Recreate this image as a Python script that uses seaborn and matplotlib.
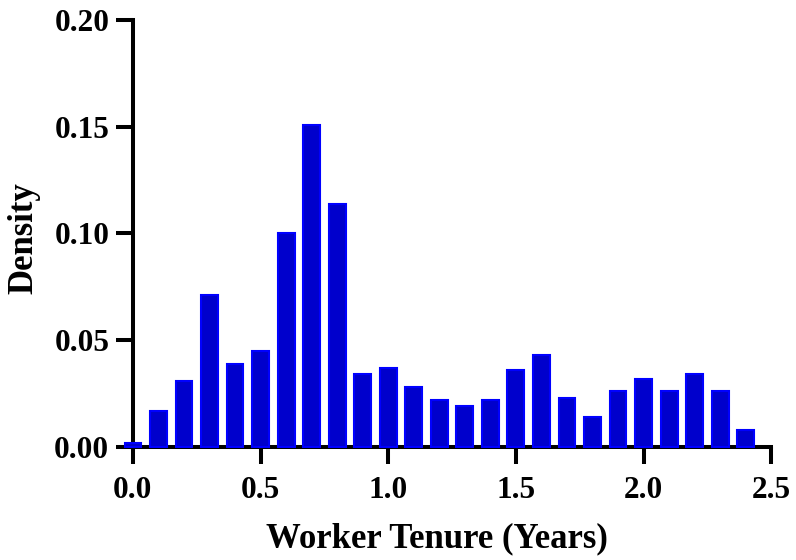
import numpy as np
import matplotlib
matplotlib.use("Agg")
import matplotlib.pyplot as plt
import seaborn as sns

# data
tenure = [0.0, 0.1, 0.2, 0.3, 0.4, 0.5, 0.6, 0.7, 0.8, 0.9, 1.0, 1.1, 1.2,
          1.3, 1.4, 1.5, 1.6, 1.7, 1.8, 1.9, 2.0, 2.1, 2.2, 2.3, 2.4]
density = [0.002, 0.017, 0.031, 0.071, 0.039, 0.045, 0.100, 0.151, 0.114,
           0.034, 0.037, 0.028, 0.022, 0.019, 0.022, 0.036, 0.043, 0.023,
           0.014, 0.026, 0.032, 0.026, 0.034, 0.026, 0.008]

sns.set_style("ticks")
plt.rcParams['font.family'] = ['Liberation Serif', 'DejaVu Serif']
plt.rcParams['font.weight'] = 'bold'

fig = plt.figure(figsize=(7.96, 5.6), dpi=100)
ax = fig.add_axes([0.167, 0.2018, 0.8019, 0.7625])

sns.barplot(x=tenure, y=density, native_scale=True, width=0.66,
            color='#0000cc', edgecolor='#0000ff', linewidth=1.5,
            saturation=1, ax=ax)
for p in ax.patches:
    p.set_clip_on(False)
    p.set_zorder(3)

ax.set_xlim(0, 2.5)
ax.set_ylim(0, 0.20)
ax.set_xticks(np.arange(0, 2.51, 0.5))
ax.set_xticklabels([f"{v:.1f}" for v in np.arange(0, 2.51, 0.5)])
ax.set_yticks(np.arange(0, 0.201, 0.05))
ax.set_yticklabels([f"{v:.2f}" for v in np.arange(0, 0.201, 0.05)])

for s in ['top', 'right']:
    ax.spines[s].set_visible(False)
for s in ['left', 'bottom']:
    ax.spines[s].set_linewidth(2.9)
    ax.spines[s].set_color('black')
    ax.spines[s].set_zorder(2)
ax.tick_params(direction='out', length=12, width=2.9, labelsize=22.5,
               colors='black')
ax.tick_params(axis='x', pad=9)
ax.tick_params(axis='y', pad=5)
for lab in ax.get_xticklabels() + ax.get_yticklabels():
    lab.set_fontweight('bold')

ax.set_xlabel('Worker Tenure (Years)', fontsize=25, fontweight='bold',
              color='black', labelpad=12)
ax.set_ylabel('Density', fontsize=25, fontweight='bold',
              color='black', labelpad=10)
ax.xaxis.label.set_x(0.477)
ax.yaxis.label.set_y(0.489)

fig.savefig('out.png', dpi=100)
